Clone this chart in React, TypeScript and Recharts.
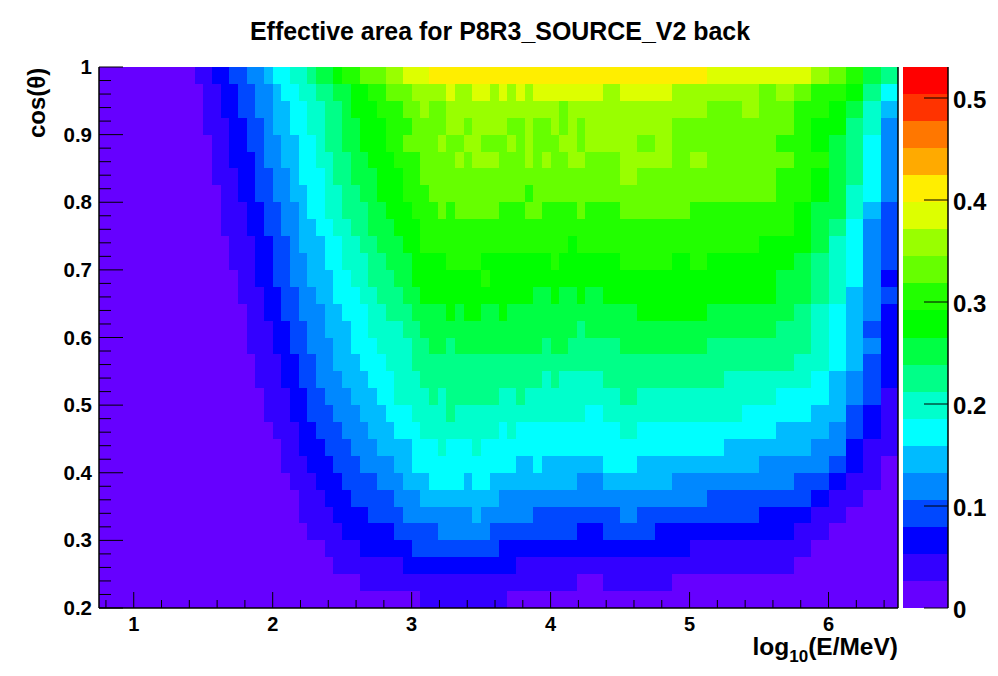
import React from "react";
import { ScatterChart, Scatter, BarChart, Bar, XAxis, YAxis } from "recharts";

// Palette of the colour scale, bottom to top
const palette = ["#6600ff","#3300ff","#0000ff","#0048ff","#0088ff","#00bbff","#00ffff","#00ffcc","#00ff88","#00ff44","#00ff00","#22ff00","#66ff00","#99ff00","#ddff00","#ffee00","#ffaa00","#ff7700","#ff3300","#ff0000"];
const zMax = 0.5304;
const levelWidth = zMax / palette.length;

// Each row runs from cos(theta)=1 downward. Pairs: colour level, column where the run ends (92 columns)
const r00 = [0,11,1,13,2,15,3,17,4,19,5,20,6,22,7,24,8,25,9,27,10,28,11,30,12,33,13,35,14,38,15,70,14,82,13,84,12,86,11,88,9,90,8,92];
const r01 = [0,12,1,14,2,16,3,18,4,20,5,21,6,23,7,25,8,27,9,29,10,31,11,33,12,36,13,40,14,41,13,43,14,45,13,46,14,47,13,48,14,49,13,50,14,58,13,60,14,66,13,76,12,78,13,80,12,82,11,86,10,88,8,90,6,92];
const r02 = [0,12,1,14,2,16,3,18,4,20,5,22,6,24,7,26,8,28,9,29,10,32,11,35,12,37,13,38,12,40,13,53,12,54,13,70,12,74,13,76,12,80,11,84,10,86,9,88,7,90,5,92];
const r03 = [0,12,1,15,2,17,3,19,4,20,5,22,6,24,7,26,8,28,9,30,10,33,11,36,12,40,13,42,12,43,13,47,12,49,13,50,12,52,13,53,12,54,13,55,12,56,13,66,12,80,11,82,10,86,8,88,7,90,4,92];
const r04 = [0,13,1,15,2,17,3,19,4,21,5,23,6,25,7,26,8,28,9,30,10,33,11,35,12,39,13,40,12,42,13,44,12,47,13,48,12,49,13,50,12,53,13,55,12,56,13,62,12,64,13,66,12,78,11,82,10,84,9,86,8,88,6,90,4,92];
const r05 = [0,13,1,15,2,18,3,19,4,21,5,23,6,25,7,27,8,29,9,31,10,34,11,37,12,41,13,42,12,43,13,46,12,49,13,50,12,51,13,52,12,54,13,56,12,60,13,66,12,68,13,70,12,80,11,84,9,86,8,88,6,90,4,92];
const r06 = [0,13,1,16,2,18,3,20,4,22,5,23,6,26,7,27,8,29,9,32,10,35,11,37,12,60,13,62,12,78,11,82,10,84,9,86,8,88,6,90,4,92];
const r07 = [0,14,1,16,2,18,3,20,4,22,5,24,6,26,7,28,8,30,9,32,10,35,11,38,12,49,11,50,12,78,11,82,10,84,9,86,7,88,6,90,4,92];
const r08 = [0,14,1,17,2,19,3,21,4,23,5,24,6,26,7,28,8,31,9,33,10,36,11,39,12,40,11,41,12,46,11,49,12,51,11,55,12,56,11,60,12,68,11,80,10,82,9,86,7,88,5,90,3,92];
const r09 = [0,14,1,17,2,19,3,21,4,23,5,25,6,27,7,29,8,31,9,34,10,37,11,80,10,82,9,84,8,86,6,88,4,90,3,92];
const r10 = [0,15,1,18,2,20,3,22,4,23,5,26,6,28,7,30,8,32,9,35,10,37,11,54,10,55,11,76,10,82,9,84,7,86,6,88,4,90,3,92];
const r11 = [0,15,1,18,2,20,3,22,4,24,5,26,6,28,7,31,8,33,9,36,10,40,11,44,10,52,11,53,10,60,11,66,10,68,11,70,10,80,9,82,8,84,7,86,6,88,4,90,3,92];
const r12 = [0,16,1,18,2,20,3,22,4,24,5,27,6,29,7,31,8,34,9,36,10,44,11,45,10,78,9,82,8,84,7,86,6,88,4,90,2,92];
const r13 = [0,16,1,19,2,21,3,23,4,25,5,27,6,30,7,32,8,35,9,37,10,50,9,52,10,53,9,55,10,56,9,58,10,78,9,82,8,84,7,86,5,88,4,90,3,92];
const r14 = [0,17,1,19,2,21,3,23,4,26,5,28,6,31,7,33,8,36,9,40,10,41,9,42,10,44,9,46,10,47,9,62,10,70,9,80,8,82,7,84,6,86,5,88,4,90,2,92];
const r15 = [0,17,1,20,2,22,3,24,4,26,5,29,6,31,7,35,8,37,9,55,8,56,9,78,8,82,7,84,6,86,5,88,3,90,2,92];
const r16 = [0,17,1,20,2,22,3,24,4,27,5,29,6,32,7,36,8,38,9,40,8,41,9,51,8,52,9,54,8,60,9,70,8,82,7,84,6,86,5,88,4,90,2,92];
const r17 = [0,18,1,21,2,23,3,25,4,27,5,30,6,33,7,36,8,80,7,84,6,86,5,88,3,90,2,92];
const r18 = [0,18,1,21,2,23,3,25,4,28,5,31,6,34,7,37,8,51,7,52,8,53,7,58,8,72,7,82,6,84,5,86,4,88,3,90,2,92];
const r19 = [0,19,1,22,2,24,3,26,4,29,5,32,6,34,7,38,8,39,7,40,8,46,7,48,8,49,7,60,8,62,7,78,6,84,5,86,4,88,3,90,1,92];
const r20 = [0,19,1,22,2,24,3,27,4,30,5,33,6,36,7,40,8,41,7,56,6,58,7,74,6,82,5,86,3,88,2,90,1,92];
const r21 = [0,20,1,23,2,25,3,28,4,31,5,34,6,37,7,46,6,47,7,48,6,60,7,62,6,78,5,84,4,86,3,88,2,90,1,92];
const r22 = [0,21,1,23,2,26,3,29,4,32,5,36,6,39,7,40,6,43,7,44,6,72,5,82,4,86,2,88,1,92];
const r23 = [0,21,1,24,2,27,3,30,4,34,5,36,6,48,5,50,6,51,5,58,6,62,5,76,4,84,3,86,2,88,1,90,0,92];
const r24 = [0,22,1,25,2,28,3,32,4,35,5,38,6,42,5,43,6,45,5,55,4,58,5,66,4,80,3,84,2,86,1,90,0,92];
const r25 = [0,23,1,26,2,29,3,34,4,37,5,46,4,70,3,82,2,84,1,88,0,92];
const r26 = [0,23,1,27,2,31,3,35,4,43,5,44,4,50,3,60,4,62,3,76,2,82,1,86,0,92];
const r27 = [0,24,1,28,2,34,3,39,4,45,3,55,2,58,3,64,2,80,1,84,0,92];
const r28 = [0,26,1,30,2,36,3,46,2,68,1,82,0,92];
const r29 = [0,27,1,35,2,48,1,80,0,92];
const r30 = [0,30,1,55,0,58,1,66,0,92];
const r31 = [0,37,1,47,0,92];
const rows = [r00,r01,r02,r03,r04,r05,r06,r07,r08,r09,r10,r11,r12,r13,r14,r15,r16,r17,r18,r19,r20,r21,r22,r23,r24,r25,r26,r27,r28,r29,r30,r31];

const xMin = 0.75, xMax = 6.5, yMin = 0.2, yMax = 1;
const nCols = 92;
const xMajor = [1, 2, 3, 4, 5, 6];
const xTicks = [0.8,1,1.2,1.4,1.6,1.8,2,2.2,2.4,2.6,2.8,3,3.2,3.4,3.6,3.8,4,4.2,4.4,4.6,4.8,5,5.2,5.4,5.6,5.8,6,6.2,6.4];
const yMajor = [0.2,0.3,0.4,0.5,0.6,0.7,0.8,0.9,1];
const yTicks = [0.2,0.22,0.24,0.26,0.28,0.3,0.32,0.34,0.36,0.38,0.4,0.42,0.44,0.46,0.48,0.5,0.52,0.54,0.56,0.58,0.6,0.62,0.64,0.66,0.68,0.7,0.72,0.74,0.76,0.78,0.8,0.82,0.84,0.86,0.88,0.9,0.92,0.94,0.96,0.98,1];
const zTicks = [0, 0.1, 0.2, 0.3, 0.4, 0.5];

const cells: { x: number; y: number; z: number }[] = [];
rows.forEach((runs, r) => {
  let c = 0;
  for (let i = 0; i < runs.length; i += 2) {
    for (; c < runs[i + 1]; c++) {
      cells.push({
        x: xMin + ((c + 0.5) * (xMax - xMin)) / nCols,
        y: yMax - ((r + 0.5) * (yMax - yMin)) / rows.length,
        z: (runs[i] + 0.5) * levelWidth,
      });
    }
  }
});
const barRow: Record<string, number | string> = { name: "z" };
palette.forEach((_, i) => (barRow["l" + i] = levelWidth));

const plotW = 799, plotH = 541;
const cellW = plotW / nCols, cellH = plotH / rows.length;
const font = "'Liberation Sans', Arial, sans-serif";

const CellShape = (p: any) => (
  <rect
    x={p.cx - cellW / 2}
    y={p.cy - cellH / 2}
    width={cellW + 0.5}
    height={cellH + 0.5}
    fill={palette[Math.min(palette.length - 1, Math.floor(p.payload.z / levelWidth))]}
    shapeRendering="crispEdges"
  />
);

const near = (v: number, list: number[]) => list.some((m) => Math.abs(m - v) < 1e-6);

const XTick = (p: any) => {
  const major = near(p.payload.value, xMajor);
  return (
    <g>
      <line x1={p.x} x2={p.x} y1={608} y2={major ? 592 : 600} stroke="#000" strokeWidth={1} />
      {major && (
        <text x={p.x} y={631} textAnchor="middle" fontFamily={font} fontWeight="bold" fontSize={20} fill="#000">
          {p.payload.value}
        </text>
      )}
    </g>
  );
};
const YTick = (p: any) => {
  const major = near(p.payload.value, yMajor);
  return (
    <g>
      <line x1={99} x2={major ? 123 : 111} y1={p.y} y2={p.y} stroke="#000" strokeWidth={1} />
      {major && (
        <text x={92} y={p.y + 7} textAnchor="end" fontFamily={font} fontWeight="bold" fontSize={20.5} fill="#000">
          {Number(p.payload.value.toFixed(1))}
        </text>
      )}
    </g>
  );
};
const ZTick = (p: any) => (
  <g>
    <line x1={p.x - 24} x2={p.x} y1={p.y} y2={p.y} stroke="#000" strokeWidth={1} />
    <text x={p.x + 5} y={p.y + 10} textAnchor="start" fontFamily={font} fontWeight="bold" fontSize={24} fill="#000">
      {p.payload.value}
    </text>
  </g>
);

export default function App() {
  return (
    <div style={{ position: "absolute", left: 0, top: 0, width: 998, height: 676, background: "#fff", overflow: "hidden" }}>
      <div style={{ position: "absolute", left: 0, top: 0 }}>
        <ScatterChart width={998} height={676} margin={{ top: 67, left: 98, right: 99, bottom: 67 }}>
          <Scatter data={cells} dataKey="y" shape={CellShape} isAnimationActive={false} />
          <XAxis type="number" dataKey="x" domain={[xMin, xMax]} ticks={xTicks} interval={0} height={1} tick={XTick} tickLine={false} stroke="#000" strokeWidth={1.5} allowDataOverflow zIndex={1000} />
          <YAxis type="number" dataKey="y" domain={[yMin, yMax]} ticks={yTicks} interval={0} width={1} tick={YTick} tickLine={false} stroke="#000" strokeWidth={1.5} allowDataOverflow zIndex={1000} />
          <YAxis yAxisId="edge" orientation="right" type="number" domain={[yMin, yMax]} width={1} tick={false} tickLine={false} stroke="#000" strokeWidth={1.5} zIndex={1000} />
        </ScatterChart>
      </div>
      <div style={{ position: "absolute", left: 903, top: 0 }}>
        <BarChart width={95} height={676} data={[barRow]} margin={{ top: 67, left: 0, right: 49, bottom: 68 }} barCategoryGap={0}>
          <XAxis dataKey="name" hide />
          <YAxis orientation="right" type="number" domain={[0, zMax]} ticks={zTicks} interval={0} width={1} tick={ZTick} tickLine={false} tickSize={0} tickMargin={0} stroke="#000" strokeWidth={1.5} allowDataOverflow zIndex={1000} />
          {palette.map((c, i) => (
            <Bar key={c} dataKey={"l" + i} stackId="z" fill={c} isAnimationActive={false} shapeRendering="crispEdges" />
          ))}
        </BarChart>
      </div>
      <svg width={998} height={676} style={{ position: "absolute", left: 0, top: 0, pointerEvents: "none" }}>
        <text x={500} y={40} textAnchor="middle" fontFamily={font} fontWeight="bold" fontSize={25} fill="#000" textLength={500} lengthAdjust="spacingAndGlyphs">
          Effective area for P8R3_SOURCE_V2 back
        </text>
        <text x={898} y={655} textAnchor="end" fontFamily={font} fontWeight="bold" fontSize={24.5} fill="#000">
          log<tspan fontSize={17} dy={7}>10</tspan><tspan dy={-7}>(E/MeV)</tspan>
        </text>
        <text transform="translate(45,138) rotate(-90)" textAnchor="start" fontFamily={font} fontWeight="bold" fontSize={24} fill="#000">
          cos(θ)
        </text>
      </svg>
    </div>
  );
}
